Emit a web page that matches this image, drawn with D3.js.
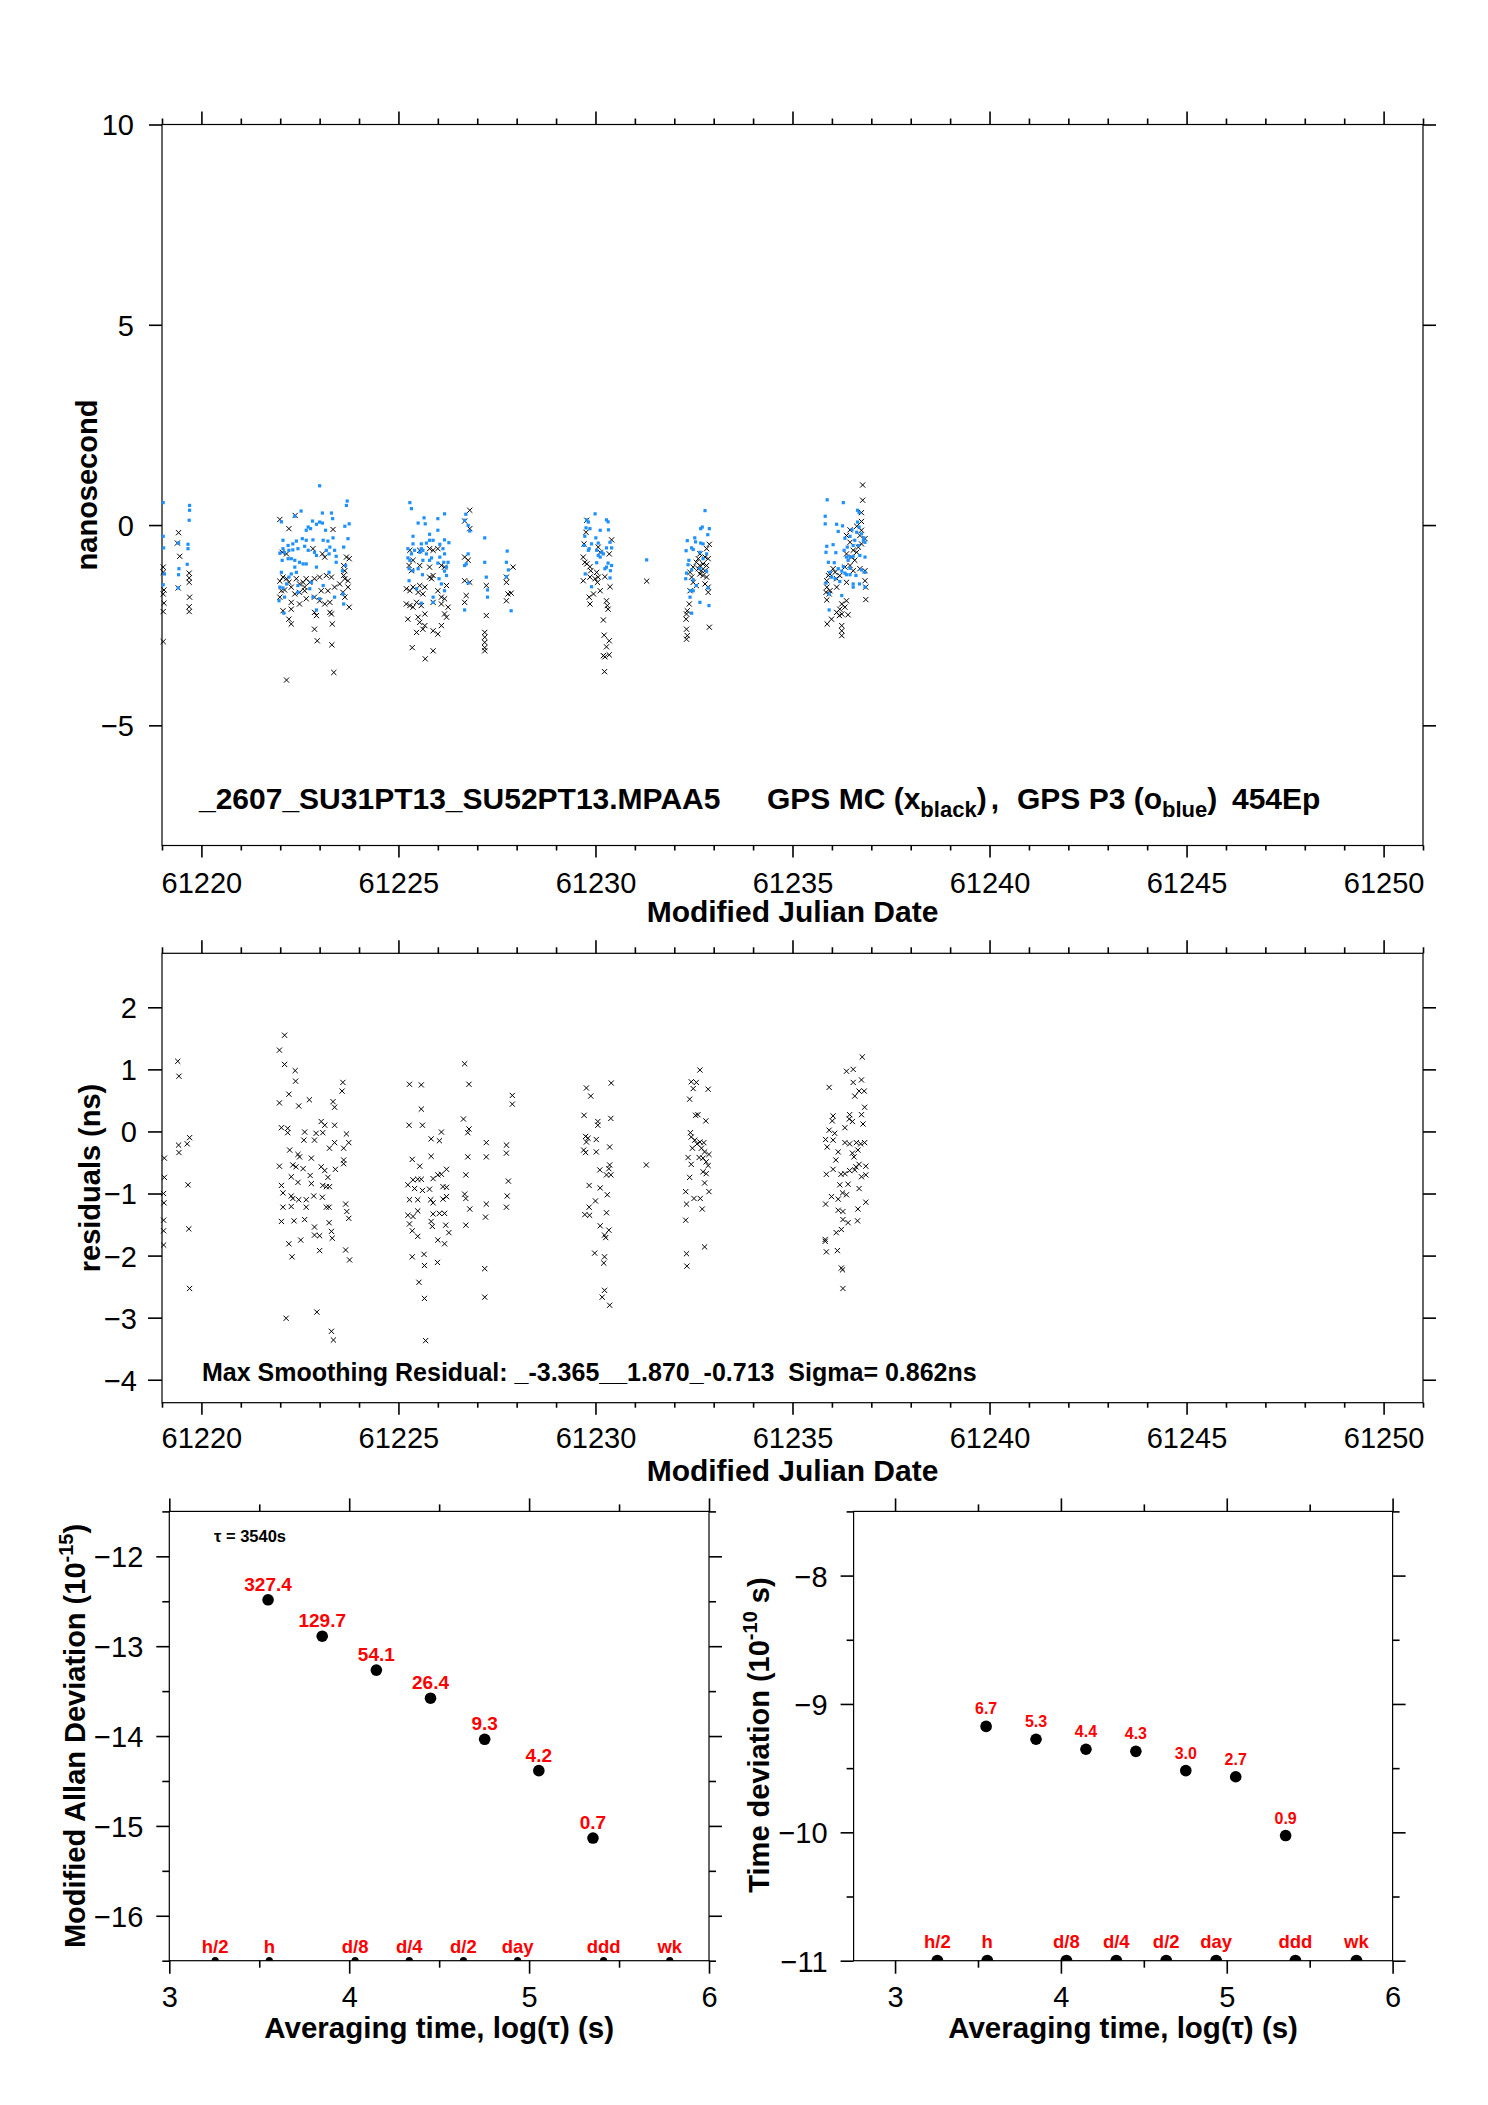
<!DOCTYPE html>
<html><head><meta charset="utf-8">
<script src="https://cdn.jsdelivr.net/npm/d3@7"></script>
<style>
body{margin:0;background:#fff}
svg{display:block}
text{font-family:"Liberation Sans",Arial,Helvetica,sans-serif;fill:#000}
</style>
</head><body>
<svg id="c" width="1488" height="2105"></svg>
<script>
// ---------------- DATA ----------------
// Top panel: GPS MC (black x) [MJD, ns]
const mcPoints = [
[61219.03,-1.05],[61219.03,-1.18],[61219.05,-1.62],[61219.03,-1.72],[61219.05,-1.95],[61219.03,-2.16],[61219.03,-2.91],[61219.42,-0.19],[61219.39,-0.45],[61219.45,-0.78],[61219.41,-1.57],[61219.69,-1.20],[61219.69,-1.32],[61219.69,-1.43],[61219.70,-1.80],[61219.69,-2.04],[61219.69,-2.16],
[61221.99,0.14],[61222.22,-0.09],[61222.38,0.24],[61223.34,-0.11],[61222.05,-0.68],[61222.16,-0.72],[61222.83,-0.59],[61223.07,-0.72],[61223.13,-0.80],[61223.68,-0.80],[61223.75,-0.84],[61223.61,-1.01],[61222.07,-1.30],[61222.16,-1.34],[61222.22,-1.43],[61222.41,-1.34],[61222.49,-1.47],[61222.58,-1.43],[61222.66,-1.34],[61222.62,-1.55],[61222.75,-1.43],[61222.87,-1.34],[61223.00,-1.30],[61223.17,-1.26],[61223.30,-1.30],[61221.99,-1.40],[61222.03,-1.64],[61222.11,-1.62],[61222.28,-1.55],[61222.37,-1.72],[61222.49,-1.68],[61222.62,-1.64],[61223.04,-1.64],[61223.21,-1.64],[61223.38,-1.55],[61223.51,-1.47],[61223.64,-1.34],[61223.72,-1.39],[61221.99,-1.80],[61222.28,-1.93],[61222.49,-1.97],[61222.66,-1.84],[61222.87,-1.80],[61223.00,-1.89],[61223.13,-1.97],[61223.26,-1.93],[61223.59,-1.68],[61223.75,-2.05],[61222.07,-2.14],[61222.28,-2.10],[61222.87,-2.18],[61222.92,-2.26],[61223.26,-2.18],[61223.30,-2.22],[61222.22,-2.35],[61222.28,-2.47],[61222.87,-2.60],[61223.32,-2.47],[61222.94,-2.89],[61223.31,-2.99],[61222.16,-3.87],[61223.36,-3.68],[61223.64,-1.14],[61223.61,-1.26],[61223.72,-1.55],[61223.64,-1.80],
[61226.81,0.37],[61226.68,0.10],[61226.81,-0.09],[61225.29,-0.63],[61225.54,-0.63],[61225.79,-0.59],[61225.88,-0.63],[61226.00,-0.59],[61225.37,-0.88],[61225.54,-1.01],[61225.79,-1.05],[61226.09,-1.01],[61226.17,-1.05],[61225.20,-1.59],[61225.29,-1.64],[61225.37,-1.55],[61225.54,-1.51],[61225.67,-1.55],[61225.79,-1.30],[61225.84,-1.34],[61225.88,-1.26],[61226.22,-1.51],[61225.50,-1.68],[61225.62,-1.72],[61226.00,-1.64],[61226.09,-1.80],[61226.17,-1.84],[61226.26,-2.05],[61226.17,-2.22],[61226.22,-2.30],[61225.20,-1.97],[61225.29,-2.01],[61225.37,-2.05],[61225.46,-1.93],[61225.58,-2.01],[61225.88,-1.93],[61226.09,-1.97],[61225.24,-2.35],[61225.50,-2.30],[61225.67,-2.22],[61225.54,-2.43],[61225.67,-2.51],[61225.46,-2.68],[61225.62,-2.60],[61225.88,-2.64],[61226.00,-2.72],[61226.09,-2.51],[61225.35,-3.06],[61225.88,-3.14],[61225.68,-3.34],[61226.68,-0.80],[61226.77,-0.88],[61226.68,-1.39],[61226.81,-1.43],[61226.72,-1.76],[61226.68,-1.93],[61227.23,-1.51],[61227.23,-2.26],[61227.19,-2.68],[61227.19,-2.80],[61227.19,-2.93],[61227.19,-3.06],[61227.19,-3.14],[61227.91,-1.05],[61227.74,-1.30],[61227.74,-1.43],[61227.78,-1.72],[61227.74,-1.89],[61227.86,-1.70],[61225.27,-1.01],[61225.33,-1.14],
[61229.78,0.12],[61229.76,-0.18],[61230.41,-0.37],[61230.07,-0.55],[61229.71,-0.47],[61229.69,-0.80],[61229.78,-0.97],[61229.86,-1.04],[61230.12,-0.68],[61230.35,-0.72],[61229.69,-1.39],[61229.86,-1.30],[61229.99,-1.34],[61230.07,-1.30],[61230.24,-1.29],[61230.37,-1.54],[61230.05,-1.43],[61229.95,-1.72],[61230.12,-1.64],[61229.84,-1.80],[61229.86,-1.97],[61230.28,-1.89],[61230.30,-2.01],[61230.32,-2.10],[61230.20,-2.37],[61230.22,-2.75],[61230.35,-2.89],[61230.28,-3.04],[61230.20,-3.26],[61230.24,-3.29],[61230.35,-3.24],[61230.23,-3.66],[61229.73,-0.93],[61229.88,-1.14],[61230.03,-1.18],[61231.30,-1.40],
[61232.89,-0.48],[61232.82,-0.59],[61232.65,-0.72],[61232.78,-0.80],[61232.61,-0.84],[61232.86,-0.84],[61232.56,-0.93],[61232.73,-0.97],[61232.65,-1.01],[61232.82,-1.01],[61232.48,-1.05],[61232.61,-1.09],[61232.69,-1.14],[61232.78,-1.14],[61232.40,-1.18],[61232.65,-1.22],[61232.73,-1.26],[61232.82,-1.30],[61232.44,-1.30],[61232.48,-1.43],[61232.56,-1.51],[61232.78,-1.47],[61232.86,-1.55],[61232.40,-1.64],[61232.86,-1.68],[61232.38,-1.97],[61232.33,-2.14],[61232.31,-2.22],[61232.30,-2.35],[61232.31,-2.60],[61232.33,-2.76],[61232.31,-2.85],[61232.89,-2.55],
[61236.78,1.00],[61236.78,0.62],[61236.75,0.31],[61236.75,0.09],[61236.63,-0.03],[61236.75,-0.13],[61236.46,-0.12],[61236.37,-0.26],[61236.71,-0.26],[61236.84,-0.34],[61236.75,-0.47],[61236.67,-0.55],[61236.46,-0.43],[61236.54,-0.63],[61236.63,-0.68],[61236.37,-0.72],[61236.50,-0.80],[61236.58,-0.88],[61236.46,-1.01],[61236.33,-1.05],[61236.54,-1.14],[61236.71,-1.09],[61236.84,-1.14],[61236.03,-1.09],[61235.95,-1.22],[61236.08,-1.18],[61236.20,-1.26],[61236.12,-1.34],[61235.91,-1.26],[61235.87,-1.39],[61236.84,-1.39],[61235.87,-1.55],[61235.95,-1.64],[61236.12,-1.55],[61236.37,-1.43],[61236.86,-1.55],[61235.85,-1.68],[61235.93,-1.72],[61235.87,-1.87],[61236.37,-1.89],[61236.25,-1.97],[61236.33,-2.05],[61236.20,-2.10],[61236.12,-2.18],[61236.25,-2.22],[61236.19,-2.26],[61236.41,-2.24],[61235.99,-2.35],[61235.88,-2.47],[61236.25,-2.51],[61236.25,-2.64],[61236.25,-2.76],[61236.86,-1.86]
];
// Top panel: GPS P3 (blue dots) [MJD, ns]
const p3Points = [
[61219.03,0.56],[61219.03,-0.28],[61219.04,-0.57],[61219.06,-1.22],[61219.03,-1.49],[61219.42,-0.45],[61219.43,-1.09],[61219.42,-1.24],[61219.41,-1.57],[61219.70,0.49],[61219.70,0.37],[61219.69,0.12],[61219.66,-0.48],[61219.66,-0.59],[61219.64,-0.98],
[61223.00,0.98],[61223.70,0.60],[61223.68,0.49],[61223.07,0.30],[61223.30,0.30],[61222.53,0.35],[61222.37,0.22],[61223.33,0.16],[61222.03,0.08],[61222.82,0.10],[61223.00,0.075],[61223.07,0.05],[61222.92,0.02],[61222.71,-0.05],[61222.77,-0.09],[61222.66,-0.13],[61223.15,-0.13],[61223.34,-0.32],[61223.72,-0.34],[61223.75,0.03],[61223.64,-0.03],[61222.07,-0.38],[61222.20,-0.51],[61222.32,-0.47],[61222.41,-0.40],[61222.56,-0.34],[61222.66,-0.38],[61222.83,-0.37],[61223.09,-0.38],[61223.21,-0.40],[61223.26,-0.55],[61223.38,-0.63],[61222.07,-0.59],[61222.11,-0.69],[61222.22,-0.63],[61222.32,-0.62],[61222.45,-0.59],[61222.62,-0.53],[61222.71,-0.63],[61222.87,-0.68],[61222.92,-0.76],[61223.17,-0.63],[61223.24,-0.72],[61223.42,-0.78],[61223.61,-0.55],[61221.99,-0.70],[61222.05,-0.88],[61222.20,-0.84],[61222.28,-0.84],[61222.37,-0.88],[61222.49,-0.93],[61222.58,-0.97],[61222.66,-0.97],[61222.37,-1.05],[61222.28,-1.22],[61222.41,-1.18],[61222.22,-1.30],[61222.03,-1.18],[61221.99,-1.55],[61222.07,-1.57],[61222.16,-1.47],[61222.45,-1.51],[61222.79,-1.43],[61222.75,-1.59],[61223.09,-1.51],[61223.24,-1.18],[61223.42,-0.93],[61223.66,-1.01],[61223.58,-1.14],[61223.59,-1.72],[61223.61,-1.97],[61223.38,-1.80],[61223.00,-1.84],[61222.83,-1.80],[61222.45,-1.68],[61222.11,-1.80],[61221.97,-1.89],[61222.09,-2.20],[61222.92,-2.12],[61222.92,-1.05],
[61225.29,0.56],[61225.33,0.41],[61225.50,0.05],[61225.65,0.18],[61225.68,0.03],[61226.00,0.16],[61226.17,0.28],[61226.71,0.27],[61226.68,0.12],[61226.77,-0.01],[61226.81,-0.15],[61225.79,-0.23],[61225.79,-0.38],[61225.88,-0.38],[61226.00,-0.13],[61226.17,-0.37],[61226.28,-0.44],[61225.37,-0.28],[61225.37,-0.47],[61225.58,-0.47],[61225.71,-0.45],[61225.58,-0.59],[61226.05,-0.48],[61226.13,-0.59],[61225.24,-0.59],[61225.33,-0.72],[61225.41,-0.63],[61225.54,-0.68],[61225.62,-0.63],[61225.71,-0.72],[61225.84,-0.82],[61226.05,-0.80],[61226.17,-0.72],[61226.26,-0.93],[61226.22,-1.05],[61225.24,-0.82],[61225.29,-0.88],[61225.62,-0.88],[61225.79,-0.88],[61226.00,-0.95],[61226.15,-0.93],[61226.17,-1.15],[61226.22,-1.26],[61225.27,-1.09],[61225.37,-1.14],[61225.50,-1.09],[61225.61,-1.24],[61226.03,-1.34],[61226.09,-1.47],[61226.17,-1.64],[61225.88,-1.80],[61225.88,-1.93],[61225.58,-1.95],[61225.46,-1.59],[61225.27,-1.39],[61226.77,-0.72],[61226.72,-0.97],[61226.68,-1.01],[61226.77,-1.45],[61226.68,-2.12],[61227.19,-0.32],[61227.19,-0.93],[61227.23,-1.30],[61227.26,-1.62],[61227.26,-1.80],[61227.76,-0.65],[61227.74,-0.93],[61227.79,-1.12],[61227.74,-1.29],[61227.86,-2.14],
[61229.99,0.28],[61230.28,0.13],[61230.32,0.08],[61229.78,0.13],[61229.82,0.075],[61229.76,-0.07],[61229.86,-0.09],[61230.12,-0.13],[61230.33,-0.12],[61230.01,-0.32],[61230.37,-0.43],[61229.73,-0.28],[61230.07,-0.45],[61229.90,-0.47],[61229.71,-0.51],[61229.84,-0.59],[61229.82,-0.63],[61230.28,-0.57],[61230.41,-0.57],[61230.03,-0.63],[61230.16,-0.68],[61230.07,-0.76],[61230.20,-0.72],[61230.12,-0.80],[61230.03,-0.94],[61230.32,-0.95],[61230.41,-1.01],[61230.28,-1.05],[61230.24,-1.09],[61230.38,-1.14],[61229.74,-1.22],[61230.37,-1.32],[61229.90,-1.54],[61231.30,-0.87],
[61232.78,0.36],[61232.71,-0.05],[61232.89,-0.09],[61232.67,-0.09],[61232.85,-0.24],[61232.33,-0.39],[61232.52,-0.32],[61232.54,-0.42],[61232.67,-0.45],[61232.73,-0.47],[61232.44,-0.57],[61232.48,-0.61],[61232.30,-0.64],[61232.65,-0.68],[61232.82,-0.72],[61232.37,-0.88],[61232.73,-0.84],[61232.35,-0.99],[61232.44,-1.12],[61232.31,-1.20],[61232.65,-1.09],[61232.82,-1.15],[61232.29,-1.34],[61232.48,-1.37],[61232.56,-1.51],[61232.41,-1.64],[61232.48,-1.64],[61232.86,-1.57],[61232.40,-1.80],[61232.65,-1.93],[61232.88,-2.01],[61232.44,-2.20],
[61235.88,0.63],[61236.29,0.56],[61235.83,0.22],[61235.83,0.03],[61236.12,0.02],[61236.27,-0.02],[61236.16,-0.16],[61236.65,0.37],[61236.69,0.31],[61236.65,0.075],[61236.69,-0.05],[61236.51,-0.12],[61236.63,-0.18],[61236.75,-0.22],[61236.81,-0.32],[61236.80,-0.38],[61236.84,-0.43],[61236.46,-0.28],[61236.33,-0.33],[61236.58,-0.38],[61236.39,-0.55],[61236.31,-0.63],[61236.54,-0.51],[61236.67,-0.51],[61236.03,-0.49],[61235.87,-0.53],[61236.10,-0.69],[61235.85,-0.68],[61236.37,-0.80],[61236.46,-0.80],[61236.54,-0.78],[61236.71,-0.76],[61236.84,-0.80],[61236.41,-0.88],[61236.06,-0.94],[61235.91,-0.93],[61236.29,-1.04],[61236.46,-1.08],[61236.16,-1.09],[61236.25,-1.15],[61236.33,-1.20],[61236.37,-1.24],[61236.46,-1.24],[61236.61,-1.26],[61236.75,-1.12],[61236.84,-1.18],[61235.95,-1.18],[61235.99,-1.30],[61236.08,-1.34],[61236.20,-1.41],[61236.54,-1.47],[61236.70,-1.47],[61236.84,-1.55],[61235.85,-1.45],[61235.93,-1.72],[61236.25,-1.76],[61236.54,-1.55],[61235.93,-2.12]
];
// Middle panel: smoothing residuals [MJD, ns]
const residPoints = [
[61219.40,1.13],[61219.43,0.89],[61219.70,-0.10],[61219.64,-0.20],[61219.42,-0.22],[61219.43,-0.34],[61219.06,-0.43],[61219.06,-0.74],[61219.04,-1.00],[61219.05,-1.15],[61219.66,-0.86],[61219.04,-1.43],[61219.04,-1.60],[61219.04,-1.83],[61219.68,-1.57],[61219.70,-2.53],
[61222.11,1.55],[61221.98,1.31],[61222.11,1.08],[61222.38,0.98],[61222.39,0.81],[61223.59,0.79],[61223.57,0.65],[61222.22,0.60],[61221.98,0.46],[61222.47,0.41],[61222.74,0.51],[61223.34,0.48],[61223.38,0.39],[61223.04,0.16],[61223.13,0.10],[61223.38,0.10],[61222.03,0.06],[61222.19,0.05],[61222.19,-0.02],[61222.62,-0.01],[61222.91,-0.03],[61223.08,-0.02],[61223.68,-0.04],[61222.60,-0.14],[61222.87,-0.14],[61223.38,-0.18],[61223.74,-0.18],[61223.25,-0.27],[61223.61,-0.27],[61222.24,-0.30],[61222.49,-0.41],[61222.79,-0.43],[61222.45,-0.37],[61223.61,-0.46],[61223.61,-0.52],[61221.98,-0.56],[61222.32,-0.54],[61222.40,-0.57],[61222.58,-0.60],[61223.04,-0.57],[61223.13,-0.63],[61223.40,-0.61],[61223.21,-0.74],[61222.28,-0.73],[61222.45,-0.82],[61222.76,-0.71],[61222.79,-0.84],[61222.03,-0.87],[61223.08,-0.87],[61223.17,-0.89],[61223.25,-0.89],[61222.07,-0.99],[61222.28,-1.04],[61222.32,-1.08],[61222.47,-1.10],[61222.66,-1.10],[61222.85,-1.04],[61223.07,-1.06],[61222.07,-1.22],[61222.28,-1.21],[61222.66,-1.22],[61223.17,-1.22],[61223.24,-1.22],[61223.66,-1.17],[61223.69,-1.29],[61223.74,-1.40],[61222.03,-1.45],[61222.35,-1.44],[61222.62,-1.42],[61223.24,-1.47],[61223.30,-1.61],[61222.87,-1.54],[61222.87,-1.67],[61223.00,-1.68],[61223.32,-1.72],[61222.52,-1.75],[61222.22,-1.81],[61223.00,-1.92],[61223.66,-1.91],[61222.30,-2.02],[61223.76,-2.07],[61222.15,-3.01],[61222.93,-2.91],[61223.30,-3.22],[61223.35,-3.36],
[61226.68,1.09],[61226.79,0.76],[61225.28,0.76],[61225.58,0.75],[61225.58,0.36],[61225.27,0.10],[61225.61,0.10],[61226.09,-0.01],[61226.65,0.20],[61226.79,0.04],[61226.76,-0.02],[61225.83,-0.12],[61226.04,-0.15],[61227.89,0.58],[61227.89,0.44],[61225.35,-0.45],[61225.54,-0.56],[61225.83,-0.40],[61226.76,-0.41],[61227.23,-0.18],[61227.23,-0.41],[61227.74,-0.22],[61227.74,-0.35],[61225.24,-0.86],[61225.37,-0.78],[61225.49,-0.77],[61225.58,-0.77],[61225.61,-0.95],[61225.79,-0.93],[61225.88,-0.76],[61226.00,-0.70],[61226.09,-0.69],[61226.22,-0.61],[61225.41,-0.92],[61226.13,-0.89],[61226.22,-0.90],[61226.71,-0.70],[61225.28,-1.10],[61225.49,-1.10],[61225.82,-1.10],[61225.88,-1.15],[61226.13,-1.09],[61226.22,-1.05],[61226.68,-1.01],[61226.71,-1.08],[61226.81,-1.25],[61227.79,-0.80],[61227.76,-1.04],[61227.74,-1.22],[61227.23,-1.17],[61225.24,-1.35],[61225.37,-1.37],[61225.49,-1.28],[61225.88,-1.33],[61226.04,-1.32],[61226.17,-1.32],[61225.28,-1.49],[61225.35,-1.60],[61225.49,-1.69],[61225.83,-1.45],[61225.86,-1.53],[61226.20,-1.51],[61226.28,-1.63],[61226.71,-1.51],[61227.21,-1.38],[61226.00,-1.75],[61226.17,-1.81],[61225.35,-2.02],[61225.65,-1.98],[61225.66,-2.16],[61225.99,-2.11],[61225.52,-2.43],[61225.66,-2.69],[61227.19,-2.21],[61227.19,-2.67],[61225.69,-3.37],
[61229.77,0.70],[61229.88,0.57],[61230.40,0.78],[61229.71,0.26],[61230.06,0.16],[61230.06,0.10],[61230.39,0.21],[61229.75,-0.08],[61229.81,-0.11],[61230.02,-0.13],[61229.77,-0.17],[61229.70,-0.30],[61229.75,-0.34],[61230.02,-0.33],[61230.36,-0.25],[61230.36,-0.54],[61230.34,-0.60],[61230.11,-0.62],[61230.28,-0.70],[61230.39,-0.70],[61231.29,-0.54],[61229.84,-0.87],[61230.12,-0.91],[61230.30,-1.02],[61230.00,-1.12],[61229.84,-1.22],[61229.73,-1.34],[61229.85,-1.35],[61230.28,-1.31],[61230.12,-1.52],[61230.34,-1.59],[61230.23,-1.67],[61230.26,-1.71],[61229.98,-1.96],[61230.23,-2.02],[61230.21,-2.12],[61230.23,-2.56],[61230.17,-2.67],[61230.36,-2.80],
[61232.65,0.99],[61232.43,0.80],[61232.56,0.79],[61232.48,0.69],[61232.86,0.68],[61232.39,0.52],[61232.54,0.26],[61232.60,0.27],[61232.80,0.17],[61232.41,-0.02],[61232.43,-0.09],[61232.52,-0.14],[61232.65,-0.17],[61232.75,-0.18],[61232.58,-0.20],[61232.46,-0.27],[61232.69,-0.27],[61232.77,-0.33],[61232.88,-0.37],[61232.35,-0.42],[61232.63,-0.42],[61232.73,-0.43],[61232.43,-0.53],[61232.81,-0.49],[61232.86,-0.55],[61232.73,-0.65],[61232.81,-0.68],[61232.39,-0.74],[61232.77,-0.83],[61232.29,-0.97],[61232.88,-0.97],[61232.50,-1.08],[61232.66,-1.08],[61232.31,-1.17],[61232.71,-1.25],[61232.29,-1.43],[61232.77,-1.86],[61232.31,-1.97],[61232.32,-2.17],
[61236.77,1.20],[61236.37,0.97],[61236.54,1.00],[61235.93,0.71],[61236.54,0.79],[61236.75,0.83],[61236.69,0.65],[61236.82,0.65],[61236.58,0.57],[61236.83,0.39],[61236.03,0.25],[61236.01,0.17],[61236.45,0.27],[61236.44,0.20],[61236.75,0.27],[61236.79,0.12],[61236.52,0.16],[61236.33,0.06],[61235.93,0.02],[61236.07,-0.03],[61235.84,-0.13],[61236.03,-0.14],[61235.88,-0.25],[61236.33,-0.18],[61236.45,-0.20],[61236.62,-0.18],[61236.73,-0.20],[61236.83,-0.18],[61236.16,-0.33],[61236.52,-0.35],[61236.66,-0.30],[61236.10,-0.46],[61236.56,-0.41],[61236.61,-0.57],[61236.69,-0.53],[61236.86,-0.56],[61235.86,-0.69],[61236.03,-0.61],[61236.23,-0.69],[61236.33,-0.68],[61236.45,-0.63],[61236.58,-0.62],[61236.75,-0.73],[61236.86,-0.70],[61236.20,-0.86],[61236.41,-0.85],[61236.69,-0.92],[61236.27,-0.99],[61236.37,-1.02],[61235.99,-1.05],[61236.16,-1.09],[61235.84,-1.17],[61236.86,-1.14],[61236.16,-1.27],[61236.28,-1.29],[61236.66,-1.25],[61236.28,-1.42],[61236.41,-1.47],[61236.65,-1.44],[61236.24,-1.58],[61236.11,-1.63],[61235.83,-1.74],[61235.83,-1.77],[61235.86,-1.94],[61236.14,-1.92],[61236.24,-2.20],[61236.27,-2.23],[61236.28,-2.53]
];
// Bottom panels
const logTau      = [3.549, 3.850, 4.151, 4.452, 4.753, 5.054, 5.355];
const madevValues = [-12.484, -12.889, -13.266, -13.579, -14.036, -14.385, -15.135];
const madevLabels = ["327.4","129.7","54.1","26.4","9.3","4.2","0.7"];
const tdevValues  = [-9.175, -9.275, -9.353, -9.369, -9.519, -9.567, -10.025];
const tdevLabels  = ["6.7","5.3","4.4","4.3","3.0","2.7","0.9"];
const markTau     = [3.255, 3.556, 4.033, 4.334, 4.635, 4.936, 5.414, 5.782];
const markLabels  = ["h/2","h","d/8","d/4","d/2","day","ddd","wk"];
// tick values
const mjdMajor = [61220,61225,61230,61235,61240,61245,61250];
const mjdMinor = d3.range(61219,61252).filter(d=>d%5!==0);
const nsTicks  = [10,5,0,-5];
const resTicks = [2,1,0,-1,-2,-3,-4];
const logMajor = [3,4,5,6], logMinor = [3.5,4.5,5.5];
const madevMajor = [-12,-13,-14,-15,-16], madevMinor = [-11.5,-12.5,-13.5,-14.5,-15.5,-16.5];
const tdevMajor = [-8,-9,-10,-11], tdevMinor = [-7.5,-8.5,-9.5,-10.5];

// ---------------- DRAW ----------------
const svg = d3.select("#c");
const FONT = "'Liberation Sans',Arial,Helvetica,sans-serif";
const minus = d => d < 0 ? "\u2212" + Math.abs(d) : String(d);

function axis(orient, scale, tx, ty, majors, minors, lenMaj, lenMin, labelOpts) {
  const gen = {top:d3.axisTop,bottom:d3.axisBottom,left:d3.axisLeft,right:d3.axisRight}[orient];
  if (minors && minors.length) {
    const gm = svg.append("g").attr("transform",`translate(${tx},${ty})`)
      .call(gen(scale).tickValues(minors).tickSize(lenMin).tickSizeOuter(0).tickFormat(""));
    gm.select(".domain").remove();
    gm.selectAll("line").attr("stroke","#000").attr("stroke-width",1.6);
  }
  const g = svg.append("g").attr("transform",`translate(${tx},${ty})`)
    .call(gen(scale).tickValues(majors).tickSize(lenMaj).tickSizeOuter(0).tickFormat(labelOpts ? labelOpts.fmt : ""));
  g.select(".domain").remove();
  g.attr("font-family", FONT).attr("font-size", null);
  g.selectAll("line").attr("stroke","#000").attr("stroke-width",1.6);
  if (labelOpts) {
    const t = g.selectAll("text").attr("fill","#000").attr("font-size", labelOpts.size);
    if (orient === "bottom") t.attr("y", labelOpts.off).attr("dy", null);
    if (orient === "left") t.attr("x", labelOpts.off).attr("dy", "0.36em");
  } else {
    g.selectAll("text").remove();
  }
}

function frame(x0, y0, x1, y1) {
  svg.append("rect").attr("x",x0).attr("y",y0).attr("width",x1-x0).attr("height",y1-y0)
    .attr("fill","none").attr("stroke","#000").attr("stroke-width",1.2);
}

const xPath = "M-2.6,-2.6L2.6,2.6M-2.6,2.6L2.6,-2.6";

// ===== Top panel =====
const xT = d3.scaleLinear([61219, 61251], [162, 1423]);
const yT = d3.scaleLinear([-8, 10], [845.5, 124.5]);
frame(162, 124.5, 1423, 845.5);
axis("top", xT, 0, 124.5, mjdMajor, mjdMinor, 13, 6);
axis("bottom", xT, 0, 845.5, mjdMajor, mjdMinor, 12, 5, {fmt:d=>d, size:29, off:47.5});
axis("left", yT, 162, 0, nsTicks, null, 13, 0, {fmt:minus, size:29, off:-28});
axis("right", yT, 1423, 0, nsTicks, null, 13, 0);

svg.append("g").selectAll("path").data(mcPoints).join("path")
  .attr("transform", d => `translate(${xT(d[0])},${yT(d[1])})`)
  .attr("d", xPath).attr("stroke","#000").attr("stroke-width",1).attr("fill","none");
svg.append("g").selectAll("rect").data(p3Points).join("rect")
  .attr("x", d => xT(d[0]) - 1.6).attr("y", d => yT(d[1]) - 1.6)
  .attr("width", 3.2).attr("height", 3.2).attr("fill", "#1E90FF");

svg.append("text").attr("x",199).attr("y",809).attr("font-size",30).attr("font-weight","bold")
  .text("_2607_SU31PT13_SU52PT13.MPAA5");
const t2 = svg.append("text").attr("x",767).attr("y",809).attr("font-size",30).attr("font-weight","bold");
t2.append("tspan").text("GPS MC (x");
t2.append("tspan").attr("font-size",22).attr("dy",8).text("black");
t2.append("tspan").attr("dy",-8).text(")");
t2.append("tspan").attr("dx",4).text(",");
const t3 = svg.append("text").attr("x",1017).attr("y",809).attr("font-size",30).attr("font-weight","bold");
t3.append("tspan").text("GPS P3 (o");
t3.append("tspan").attr("font-size",22).attr("dy",8).text("blue");
t3.append("tspan").attr("dy",-8).text(")");
svg.append("text").attr("x",1232).attr("y",809).attr("font-size",30).attr("font-weight","bold").text("454Ep");

svg.append("text").attr("x",792.5).attr("y",922).attr("text-anchor","middle")
  .attr("font-size",30).attr("font-weight","bold").text("Modified Julian Date");
svg.append("text").attr("transform","translate(97,485) rotate(-90)").attr("text-anchor","middle")
  .attr("font-size",29).attr("font-weight","bold").text("nanosecond");

// ===== Middle panel =====
const yM = d3.scaleLinear([-4.37, 2.87], [1402.7, 953.3]);
frame(162, 953.3, 1423, 1402.7);
axis("top", xT, 0, 953.3, mjdMajor, mjdMinor, 13, 6);
axis("bottom", xT, 0, 1402.7, mjdMajor, mjdMinor, 12, 5, {fmt:d=>d, size:29, off:45.5});
axis("left", yM, 162, 0, resTicks, null, 14, 0, {fmt:minus, size:29, off:-25});
axis("right", yM, 1423, 0, resTicks, null, 13, 0);

svg.append("g").selectAll("path").data(residPoints).join("path")
  .attr("transform", d => `translate(${xT(d[0])},${yM(d[1])})`)
  .attr("d", xPath).attr("stroke","#000").attr("stroke-width",1).attr("fill","none");

svg.append("text").attr("x",202).attr("y",1381).attr("font-size",25).attr("font-weight","bold")
  .style("white-space","pre")
  .text("Max Smoothing Residual: _-3.365__1.870_-0.713  Sigma= 0.862ns");
svg.append("text").attr("x",792.5).attr("y",1481).attr("text-anchor","middle")
  .attr("font-size",30).attr("font-weight","bold").text("Modified Julian Date");
svg.append("text").attr("transform","translate(100,1178) rotate(-90)").attr("text-anchor","middle")
  .attr("font-size",29).attr("font-weight","bold").text("residuals (ns)");

// ===== Bottom-left: Modified Allan deviation =====
const BY0 = 1511.4, BY1 = 1960.7;
const xL = d3.scaleLinear([3, 6], [169.3, 709]);
const yL = d3.scaleLinear([-16.5, -11.5], [BY1, BY0]);
frame(169.3, BY0, 709, BY1);
axis("top", xL, 0, BY0, logMajor, logMinor, 13, 7);
axis("bottom", xL, 0, BY1, logMajor, logMinor, 13, 7, {fmt:d=>d, size:29, off:46.5});
axis("left", yL, 169.3, 0, madevMajor, madevMinor, 13, 7, {fmt:minus, size:29, off:-26});
axis("right", yL, 709, 0, madevMajor, madevMinor, 13, 7);

svg.append("defs").html(
  `<clipPath id="clipL"><rect x="169.3" y="${BY0}" width="${709-169.3}" height="${BY1-BY0}"/></clipPath>` +
  `<clipPath id="clipR"><rect x="853.6" y="${BY0}" width="${1392.6-853.6}" height="${BY1-BY0}"/></clipPath>`);

const gL = svg.append("g");
gL.selectAll("circle").data(logTau).join("circle")
  .attr("cx", d => xL(d)).attr("cy", (d,i) => yL(madevValues[i])).attr("r", 5.8).attr("fill","#000");
gL.selectAll("text").data(logTau).join("text")
  .attr("x", d => xL(d)).attr("y", (d,i) => yL(madevValues[i]) - 9)
  .attr("text-anchor","middle").attr("font-size",19).attr("font-weight","bold")
  .style("fill","#FF0000").text((d,i) => madevLabels[i]);
svg.append("g").attr("clip-path","url(#clipL)").selectAll("circle").data(markTau).join("circle")
  .attr("cx", d => xL(d)).attr("cy", yL(-16.5)).attr("r", 3.6).attr("fill","#000");
svg.append("g").selectAll("text").data(markTau).join("text")
  .attr("x", d => xL(d)).attr("y", yL(-16.5) - 8).attr("text-anchor","middle")
  .attr("font-size",18.5).attr("font-weight","bold").style("fill","#FF0000")
  .text((d,i) => markLabels[i]);

const tau = svg.append("text").attr("x",214).attr("y",1542).attr("font-size",16.5).attr("font-weight","bold");
tau.text("\u03C4 = 3540s");

const yl = svg.append("text").attr("transform","translate(85,1736) rotate(-90)").attr("text-anchor","middle")
  .attr("font-size",29).attr("font-weight","bold");
yl.append("tspan").text("Modified Allan Deviation (10");
yl.append("tspan").attr("font-size",20).attr("dy",-12).text("-15");
yl.append("tspan").attr("dy",12).text(")");
svg.append("text").attr("x",439.2).attr("y",2038).attr("text-anchor","middle")
  .attr("font-size",29.5).attr("font-weight","bold").text("Averaging time, log(\u03C4) (s)");

// ===== Bottom-right: Time deviation =====
const xR = d3.scaleLinear([2.75, 6], [853.6, 1392.6]);
const yR = d3.scaleLinear([-11, -7.5], [BY1, BY0]);
frame(853.6, BY0, 1392.6, BY1);
axis("top", xR, 0, BY0, logMajor, logMinor, 13, 7);
axis("bottom", xR, 0, BY1, logMajor, logMinor, 13, 7, {fmt:d=>d, size:29, off:46.5});
axis("left", yR, 853.6, 0, tdevMajor, tdevMinor, 13, 7, {fmt:minus, size:29, off:-26});
axis("right", yR, 1392.6, 0, tdevMajor, tdevMinor, 13, 7);

const gR = svg.append("g");
gR.selectAll("circle").data(logTau).join("circle")
  .attr("cx", d => xR(d)).attr("cy", (d,i) => yR(tdevValues[i])).attr("r", 5.8).attr("fill","#000");
gR.selectAll("text").data(logTau).join("text")
  .attr("x", d => xR(d)).attr("y", (d,i) => yR(tdevValues[i]) - 12)
  .attr("text-anchor","middle").attr("font-size",16).attr("font-weight","bold")
  .style("fill","#FF0000").text((d,i) => tdevLabels[i]);
svg.append("g").attr("clip-path","url(#clipR)").selectAll("circle").data(markTau).join("circle")
  .attr("cx", d => xR(d)).attr("cy", yR(-11)).attr("r", 6).attr("fill","#000");
svg.append("g").selectAll("text").data(markTau).join("text")
  .attr("x", d => xR(d)).attr("y", yR(-11) - 13).attr("text-anchor","middle")
  .attr("font-size",18.5).attr("font-weight","bold").style("fill","#FF0000")
  .text((d,i) => markLabels[i]);

const yr = svg.append("text").attr("transform","translate(769,1735) rotate(-90)").attr("text-anchor","middle")
  .attr("font-size",29).attr("font-weight","bold");
yr.append("tspan").text("Time deviation (10");
yr.append("tspan").attr("font-size",20).attr("dy",-12).text("-10");
yr.append("tspan").attr("dy",12).text(" s)");
svg.append("text").attr("x",1123.1).attr("y",2038).attr("text-anchor","middle")
  .attr("font-size",29.5).attr("font-weight","bold").text("Averaging time, log(\u03C4) (s)");
</script>
</body></html>
